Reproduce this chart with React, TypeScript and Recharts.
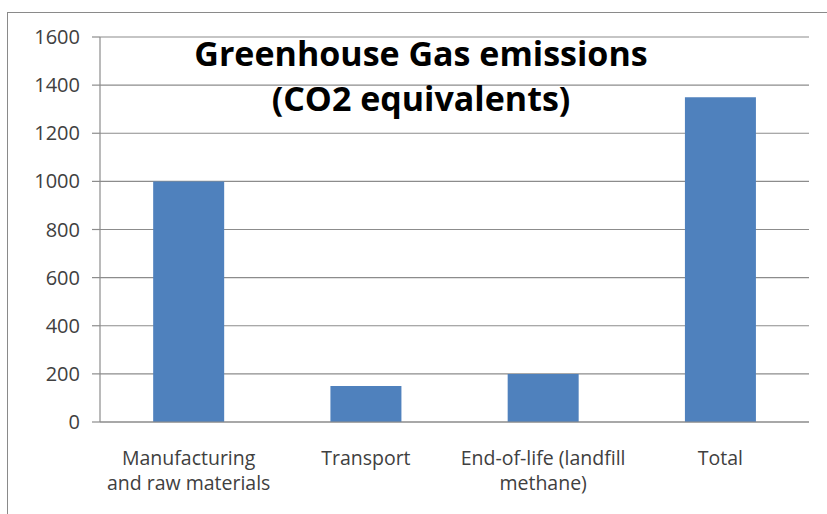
import React from 'react';
import { BarChart, Bar, XAxis, YAxis, CartesianGrid } from 'recharts';

const categories = ['Manufacturing\nand raw materials', 'Transport', 'End-of-life (landfill\nmethane)', 'Total'];
const emissions = [1000, 150, 200, 1350];
const yTicks = [0, 200, 400, 600, 800, 1000, 1200, 1400, 1600];
const edgeTicks = [0, 1, 2, 3, 4];
const titleLines = ['Greenhouse Gas emissions', '(CO2 equivalents)'];

const data = categories.map((name, i) => ({ name, value: emissions[i], pos: i + 0.5 }));

const FONT = '"Open Sans", Lato, sans-serif';
const AXIS_GRAY = '#8c8c8c';

const CategoryTick = ({ x, y, payload }: any) => {
  const lines = String(payload.value).split('\n');
  return (
    <g transform={`translate(${x},${y})`}>
      {lines.map((line, i) => (
        <text
          key={i}
          x={0}
          y={35 + i * 25}
          textAnchor="middle"
          fill="#404040"
          fontSize={19.5}
          fontFamily={FONT}
        >
          {line}
        </text>
      ))}
    </g>
  );
};

const App: React.FC = () => {
  return (
    <div style={{ position: 'absolute', left: 0, top: 0, width: 827, height: 514, overflow: 'hidden', background: '#fff' }}>
      <div
        style={{
          position: 'absolute',
          left: 7,
          top: 12,
          width: 900,
          height: 600,
          border: '1.5px solid #8a8a8a',
        }}
      />
      <BarChart
        width={827}
        height={514}
        data={data}
        margin={{ top: 37, right: 18, bottom: 0, left: 0 }}
        barCategoryGap="30%"
      >
        <CartesianGrid vertical={false} stroke={AXIS_GRAY} strokeWidth={1.2} />
        <XAxis
          xAxisId="edges"
          type="number"
          dataKey="pos"
          domain={[0, 4]}
          ticks={edgeTicks}
          height={0}
          axisLine={false}
          tick={() => <g />}
          tickLine={{ stroke: AXIS_GRAY, strokeWidth: 1.2 }}
          tickSize={6}
        />
        <XAxis
          xAxisId="cat"
          dataKey="name"
          height={92}
          interval={0}
          tickLine={false}
          axisLine={{ stroke: AXIS_GRAY, strokeWidth: 1.2 }}
          tick={<CategoryTick />}
        />
        <YAxis
          width={100}
          domain={[0, 1600]}
          ticks={yTicks}
          interval={0}
          tickSize={8}
          tickMargin={12}
          axisLine={{ stroke: AXIS_GRAY, strokeWidth: 1.2 }}
          tickLine={{ stroke: AXIS_GRAY, strokeWidth: 1.2 }}
          tick={{ fill: '#404040', fontSize: 20, fontFamily: FONT }}
        />
        <Bar dataKey="value" xAxisId="cat" fill="#4F81BD" isAnimationActive={false} />
      </BarChart>
      <div
        style={{
          position: 'absolute',
          left: 100,
          width: 642,
          top: 31,
          textAlign: 'center',
          fontFamily: FONT,
          fontWeight: 700,
          fontSize: 34,
          lineHeight: '45px',
          color: '#000',
        }}
      >
        {titleLines.map((t) => (
          <div key={t}>{t}</div>
        ))}
      </div>
    </div>
  );
};

export default App;
